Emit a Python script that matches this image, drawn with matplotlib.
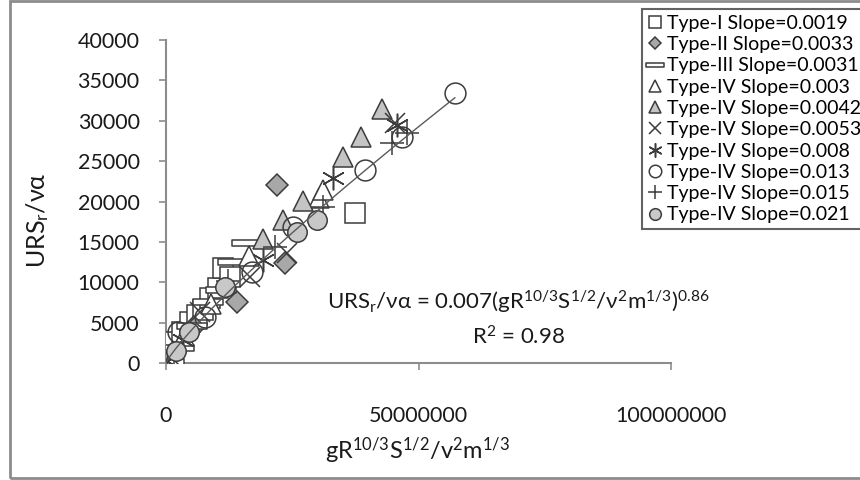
import numpy as np
import matplotlib
matplotlib.use("Agg")
import matplotlib.pyplot as plt
from matplotlib.path import Path
from matplotlib.patches import Rectangle

plt.rcParams['font.family'] = ['Lato', 'DejaVu Sans']
plt.rcParams['mathtext.fontset'] = 'custom'
plt.rcParams['mathtext.rm'] = 'Lato'
plt.rcParams['mathtext.it'] = 'Lato'
plt.rcParams['mathtext.bf'] = 'Lato:bold'

# ---- data: x = gR^(10/3) S^(1/2) / v^2 m^(1/3),  y = URS_r / (nu alpha) ----
labels = [
    "Type-I Slope=0.0019",
    "Type-II Slope=0.0033",
    "Type-III Slope=0.0031",
    "Type-IV Slope=0.003",
    "Type-IV Slope=0.0042",
    "Type-IV Slope=0.0053",
    "Type-IV Slope=0.008",
    "Type-IV Slope=0.013",
    "Type-IV Slope=0.015",
    "Type-IV Slope=0.021",
]

x_type1 = [0.4e6, 1.4e6, 3.1e6, 4.8e6, 6.2e6, 7.3e6, 8.7e6, 10.2e6, 11.3e6, 12.6e6, 37.4e6]
y_type1 = [1610, 2600, 3840, 5080, 5900, 6560, 8050, 9300, 11760, 10600, 18570]

x_type2 = [5.6e6, 14.1e6, 23.6e6, 22.0e6]
y_type2 = [4400, 7550, 12380, 22040]

x_type3 = [0.6e6, 2.6e6, 5.2e6, 8.4e6, 10.8e6, 13.3e6, 16.0e6]
y_type3 = [100, 1900, 4600, 7500, 9100, 12500, 14860]

x_s003 = [3.6e6, 8.9e6, 16.4e6, 30.3e6, 31.1e6]
y_s003 = [3300, 7300, 13200, 20400, 21420]

x_s0042 = [19.2e6, 23.2e6, 27.1e6, 35.0e6, 38.6e6, 42.8e6]
y_s0042 = [15350, 17700, 20050, 25500, 27980, 31450]

x_s0053 = [0.9e6, 6.8e6, 16.6e6, 24.0e6, 45.3e6]
y_s0053 = [800, 6300, 10650, 13600, 29700]

x_s008 = [0.2e6, 3.3e6, 19.2e6, 33.1e6, 45.8e6]
y_s008 = [300, 2900, 12750, 22900, 29500]

x_s013 = [2.4e6, 7.7e6, 17.0e6, 25.1e6, 39.4e6, 46.7e6, 57.2e6]
y_s013 = [3840, 5700, 11270, 16840, 23890, 27980, 33400]

x_s015 = [1.5e6, 12.2e6, 21.6e6, 31.1e6, 44.7e6, 47.7e6]
y_s015 = [1200, 10200, 14360, 19310, 27240, 28470]

x_s021 = [1.9e6, 4.6e6, 11.7e6, 25.9e6, 29.9e6]
y_s021 = [1500, 3900, 9400, 16220, 17700]

# power-law trendline  y = 0.007 x^0.86
coef, expo = 0.007, 0.86
r_squared = 0.98

x_ticks = [0, 50000000, 100000000]
y_ticks = list(range(0, 40001, 5000))

# ---- styling ----
W, H = 860, 480
fig = plt.figure(figsize=(W / 100, H / 100), dpi=100)

def fx(px):
    return px / W

def fy(py):
    return 1 - py / H

ax = fig.add_axes([fx(166), fy(363), fx(671) - fx(166), fy(40) - fy(363)])

edge = '#3c3c3c'
dash = Path([(-1, -0.2), (1, -0.2), (1, 0.2), (-1, 0.2), (-1, -0.2)],
            [Path.MOVETO, Path.LINETO, Path.LINETO, Path.LINETO, Path.CLOSEPOLY])

series = [
    (x_type1, y_type1, dict(marker='s', ms=15, mfc='white')),
    (x_type2, y_type2, dict(marker='D', ms=11, mfc='#a8a8a8')),
    (x_type3, y_type3, dict(marker=dash, ms=22, mfc='white')),
    (x_s003, y_s003, dict(marker='^', ms=15, mfc='white')),
    (x_s0042, y_s0042, dict(marker='^', ms=15, mfc='#c4c4c4')),
    (x_s0053, y_s0053, dict(marker='x', ms=15, mfc='none')),
    (x_s008, y_s008, dict(marker=(6, 2, 0), ms=17, mfc='none')),
    (x_s013, y_s013, dict(marker='o', ms=15, mfc='none')),
    (x_s015, y_s015, dict(marker='+', ms=17, mfc='none')),
    (x_s021, y_s021, dict(marker='o', ms=14, mfc='#c8c8c8')),
]

handles = []
for (xs, ys, st), lab in zip(series, labels):
    h, = ax.plot(xs, ys, linestyle='none', mec=edge, mew=1.1, label=lab, zorder=3, **st)
    handles.append(h)

all_x = np.concatenate([np.asarray(s[0], float) for s in series])
xt = np.linspace(0, all_x.max(), 300)
ax.plot(xt, coef * xt ** expo, color='#5a5a5a', lw=1.0, zorder=4)

ax.set_xlim(0, 100000000)
ax.set_ylim(0, 40000)
ax.set_xticks(x_ticks)
ax.set_yticks(y_ticks)
ax.set_xticklabels([str(v) for v in x_ticks])
ax.set_yticklabels([str(v) for v in y_ticks])

for s in ['top', 'right']:
    ax.spines[s].set_visible(False)
for s in ['left', 'bottom']:
    ax.spines[s].set_color('#8c8c8c')
    ax.spines[s].set_linewidth(1.5)
ax.tick_params(axis='both', direction='out', length=5, width=1.2, color='#8c8c8c',
               labelsize=15.5, labelcolor='#1a1a1a')
ax.tick_params(axis='y', pad=14)
ax.tick_params(axis='x', pad=26)

fig.text(fx(38), fy(220), r'URS$_\mathregular{r}$/να', rotation=90,
         ha='center', va='center', fontsize=18, color='#1a1a1a')
fig.text(fx(418), fy(451),
         r'gR$^\mathregular{10/3}$S$^\mathregular{1/2}$/v$^\mathregular{2}$m$^\mathregular{1/3}$',
         ha='center', va='center', fontsize=17, color='#1a1a1a')

fig.text(fx(518), fy(302),
         r'URS$_\mathregular{r}$/να = 0.007(gR$^\mathregular{10/3}$S$^\mathregular{1/2}$/ν$^\mathregular{2}$m$^\mathregular{1/3}$)$^\mathregular{0.86}$',
         ha='center', va='center', fontsize=16, color='#1a1a1a')
fig.text(fx(518), fy(337), r'R$^\mathregular{2}$ = %.2f' % r_squared,
         ha='center', va='center', fontsize=16, color='#1a1a1a')

leg = fig.legend(handles=handles, loc='upper left', bbox_to_anchor=(fx(642), fy(9)),
                 frameon=True, fancybox=False, edgecolor='#3c3c3c', fontsize=14,
                 markerscale=0.6, handlelength=0.7, handletextpad=0.3,
                 labelspacing=0.22, borderpad=0.3, borderaxespad=0)
leg.get_frame().set_linewidth(1.5)

fig.patches.append(Rectangle((fx(10), fy(478)), 1.2, fy(1) - fy(478),
                             transform=fig.transFigure, fill=False,
                             edgecolor='#8c8c8c', lw=2.0))

fig.savefig('out.png', dpi=100)
